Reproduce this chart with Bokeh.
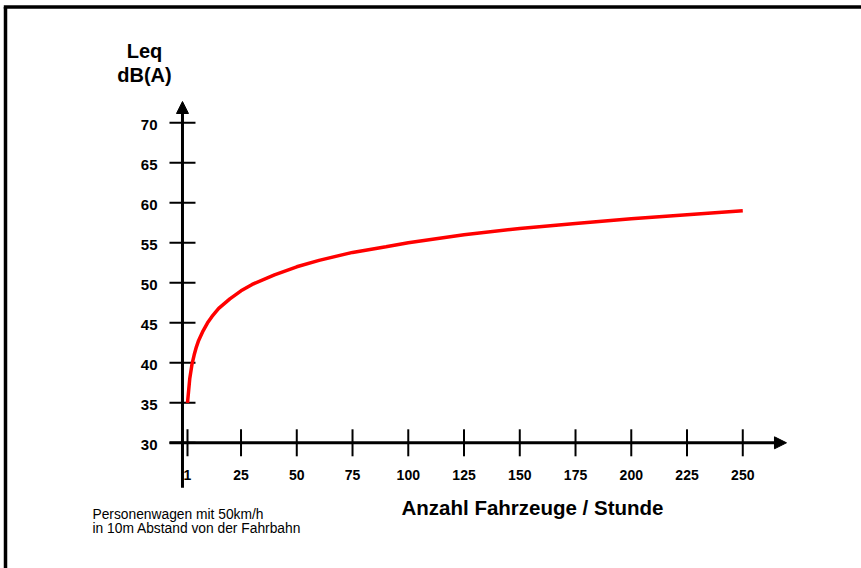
from bokeh.plotting import figure
from bokeh.models import Range1d, Arrow, NormalHead
from bokeh.core.properties import value
from bokeh.embed import file_html
from bokeh.resources import INLINE
import math

# ---- data ----
N_VEHICLES = [1, 2, 3, 4, 5, 6, 8, 10, 12, 15, 20, 25, 30, 40, 50, 60, 75,
              90, 100, 125, 150, 175, 200, 225, 250]
LEQ_DBA = [35.0, 38.0, 39.8, 41.0, 42.0, 42.8, 44.0, 45.0, 45.8, 46.8, 48.0,
           49.0, 49.8, 51.0, 52.0, 52.8, 53.8, 54.5, 55.0, 56.0, 56.8, 57.4,
           58.0, 58.5, 59.0]
X_TICKS = [1, 25, 50, 75, 100, 125, 150, 175, 200, 225, 250]
X_TICK_LABELS = ["1", "25", "50", "75", "100", "125", "150", "175", "200", "225", "250"]
Y_TICKS = [30, 35, 40, 45, 50, 55, 60, 65, 70]
Y_TICK_LABELS = [str(v) for v in Y_TICKS]
Y_TITLE = ["Leq", "dB(A)"]
X_TITLE = "Anzahl Fahrzeuge / Stunde"
NOTE = ["Personenwagen mit 50km/h", "in 10m Abstand von der Fahrbahn"]

# ---- layout (pixel geometry) ----
W, H = 861, 568
PX_X = 2.23          # px per vehicle
PX_Y = 8.0           # px per dB
ORIGIN_X = 184.77    # x=0 position inside canvas
ORIGIN_Y = 442.3     # y=30 position inside canvas (from top)
Y_AXIS_X = -1.25     # where the vertical axis stands
X_AXIS_Y = Y_TICKS[0]

x0 = -ORIGIN_X / PX_X
x1 = x0 + W / PX_X
y1 = X_AXIS_Y + ORIGIN_Y / PX_Y
y0 = y1 - H / PX_Y

FONT = value("Liberation Sans")

p = figure(width=W, height=H, x_range=Range1d(x0, x1), y_range=Range1d(y0, y1),
           output_backend="svg", toolbar_location=None,
           x_axis_location=None, y_axis_location=None, min_border=0)
p.grid.visible = False
p.outline_line_color = None
p.background_fill_color = "white"
p.border_fill_color = "white"

# frame border (top and left only)
bx = x0 + 5 / PX_X
by = y1 - 6.5 / PX_Y
p.segment(x0=[bx - 1.7 / PX_X, bx], y0=[by, y0], x1=[x1, bx], y1=[by, by],
          line_color="black", line_width=3.5)

# axes with arrows
y_axis_bottom = X_AXIS_Y - 45 / PX_Y
y_axis_top = Y_TICKS[-1] + 21.3 / PX_Y
x_axis_left = Y_AXIS_X - 13 / PX_X
x_axis_right = Y_AXIS_X + 604 / PX_X
p.add_layout(Arrow(end=NormalHead(size=12, fill_color="black", line_color="black", line_width=1),
                   x_start=Y_AXIS_X, y_start=y_axis_bottom, x_end=Y_AXIS_X, y_end=y_axis_top,
                   line_color="black", line_width=3))
p.add_layout(Arrow(end=NormalHead(size=12, fill_color="black", line_color="black", line_width=1),
                   x_start=x_axis_left, y_start=X_AXIS_Y, x_end=x_axis_right, y_end=X_AXIS_Y,
                   line_color="black", line_width=3))

# tick marks
p.scatter(x=[Y_AXIS_X] * len(Y_TICKS), y=Y_TICKS, marker="dash", size=26,
          line_color="black", line_width=2)
p.scatter(x=X_TICKS, y=[X_AXIS_Y] * len(X_TICKS), marker="dash", size=27, angle=math.pi / 2,
          line_color="black", line_width=2)

# tick labels
p.text(x=[Y_AXIS_X] * len(Y_TICKS), y=Y_TICKS, text=Y_TICK_LABELS, x_offset=-25, y_offset=2,
       text_align="right", text_baseline="middle", text_font=FONT,
       text_font_style="bold", text_font_size="15px", text_color="black")
p.text(x=X_TICKS, y=[X_AXIS_Y] * len(X_TICKS), text=X_TICK_LABELS, y_offset=32,
       text_align="center", text_baseline="middle", text_font=FONT,
       text_font_style="bold", text_font_size="14px", text_color="black")

# curve
p.line(N_VEHICLES, LEQ_DBA, line_color="#ff0000", line_width=3.5)

# y-axis title
p.text(x=[Y_AXIS_X, Y_AXIS_X], y=[Y_TICKS[-1]] * 2, text=Y_TITLE, x_offset=-38,
       y_offset=[-72, -48],
       text_align="center", text_baseline="alphabetic", text_font=FONT,
       text_font_style="bold", text_font_size="20px", text_color="black")

# x-axis title
p.text(x=[Y_AXIS_X], y=[X_AXIS_Y], text=[X_TITLE], x_offset=350, y_offset=65,
       text_align="center", text_baseline="alphabetic", text_font=FONT,
       text_font_style="bold", text_font_size="20.5px", text_color="black")

# note
p.text(x=[Y_AXIS_X] * 2, y=[X_AXIS_Y] * 2, text=NOTE, x_offset=-90, y_offset=[72, 86],
       text_align="left", text_baseline="alphabetic", text_font=FONT,
       text_font_size="13.8px", text_color="black")

open("out.html", "w").write(file_html(p, INLINE))
